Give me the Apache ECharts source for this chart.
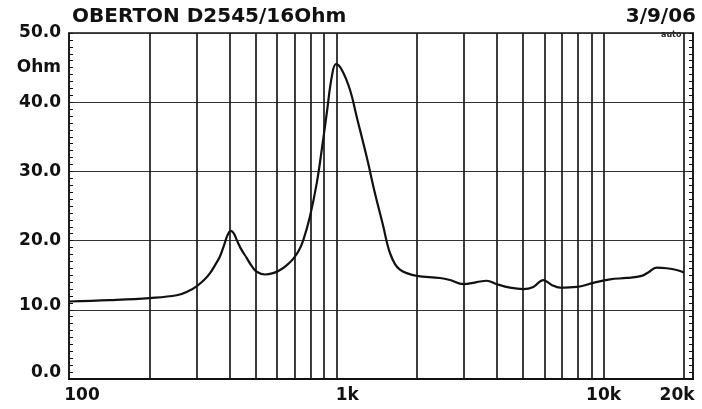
<!DOCTYPE html>
<html>
<head>
<meta charset="utf-8">
<script src="https://cdn.jsdelivr.net/npm/echarts@6/dist/echarts.min.js"></script>
<style>
html,body{margin:0;padding:0;background:#fff;}
#c{width:702px;height:409px;}
</style>
</head>
<body>
<div id="c"></div>
<script>
// Frequency (Hz) and impedance (Ohm)
var freq = [100, 142, 200, 253, 280, 300, 320, 337, 355, 367, 380, 392, 403, 414, 424, 440, 462, 483, 504, 541, 580, 616, 655, 691, 725, 753, 797, 845, 882, 921, 962, 997, 1048, 1125, 1192, 1299, 1396, 1500, 1545, 1588, 1658, 1730, 1833, 2000, 2443, 2663, 2988, 3352, 3653, 3984, 4467, 5010, 5459, 5947, 6394, 6871, 7928, 9152, 10570, 12200, 13880, 14690, 15800, 17220, 18770, 20000];
var ohm  = [11.2, 11.4, 11.7, 12.1, 12.7, 13.4, 14.3, 15.3, 16.7, 17.7, 19.3, 20.8, 21.4, 21.0, 20.1, 18.8, 17.5, 16.3, 15.5, 15.1, 15.3, 15.75, 16.5, 17.4, 18.6, 20.1, 23.5, 28.3, 33.1, 38.4, 43.7, 45.5, 44.7, 41.8, 37.9, 32.1, 26.8, 22.0, 19.8, 18.2, 16.6, 15.8, 15.3, 14.9, 14.6, 14.3, 13.7, 14.0, 14.2, 13.7, 13.2, 13.0, 13.3, 14.3, 13.6, 13.2, 13.3, 13.9, 14.4, 14.6, 14.9, 15.4, 16.1, 16.0, 15.75, 15.4];
var gridFreqs = [200, 300, 400, 500, 600, 700, 800, 900, 1000, 2000, 3000, 4000, 5000, 6000, 7000, 8000, 9000, 10000, 20000];
var xTickValues = [100, 1000, 10000, 20000];
var xTickLabels = ['100', '1k', '10k', '20k'];
var yTickValues = [0, 10, 20, 30, 40, 45, 50];
var yTickLabels = ['0.0', '10.0', '20.0', '30.0', '40.0', 'Ohm', '50.0'];
var titleText = 'OBERTON D2545/16Ohm';
var dateText = '3/9/06';

var FONT = 'DejaVu Sans';
var data = freq.map(function (f, i) { return [f, ohm[i]]; });

var chart = echarts.init(document.getElementById('c'), null, {renderer: 'canvas'});
var option = {
  backgroundColor: '#ffffff',
  animation: false,
  title: [
    {text: titleText, left: 72, top: 7, padding: 0,
     textStyle: {fontFamily: FONT, fontWeight: 'bold', fontSize: 20, color: '#111'}},
    {text: dateText, right: 6, top: 7, padding: 0,
     textStyle: {fontFamily: FONT, fontWeight: 'bold', fontSize: 20, color: '#111'}}
  ],
  graphic: [
    {type: 'text', left: 661, top: 31,
     style: {text: 'auto', fontFamily: FONT, fontWeight: 'bold', fontSize: 8, fill: '#222'}}
  ],
  grid: {left: 69, right: 9, top: 33, bottom: 30, show: true, borderColor: '#111', borderWidth: 1.5, backgroundColor: 'transparent'},
  xAxis: {
    type: 'log', logBase: 10, min: 100, max: 21600,
    axisLine: {show: true, lineStyle: {color: '#111', width: 2}},
    axisTick: {show: false},
    splitLine: {show: false},
    minorTick: {show: false},
    axisLabel: {
      customValues: xTickValues,
      margin: 8,
      formatter: function (v) {
        var i = xTickValues.indexOf(Math.round(v));
        var k = ['a', 'b', 'c', 'd'][i];
        return '{' + k + '|' + xTickLabels[i] + '}';
      },
      rich: {
        a: {fontFamily: FONT, fontWeight: 'bold', fontSize: 17, color: '#111', padding: [0, 0, 0, 26]},
        b: {fontFamily: FONT, fontWeight: 'bold', fontSize: 17, color: '#111', padding: [0, 0, 0, 22]},
        c: {fontFamily: FONT, fontWeight: 'bold', fontSize: 17, color: '#111'},
        d: {fontFamily: FONT, fontWeight: 'bold', fontSize: 17, color: '#111', padding: [0, 14, 0, 0]}
      }
    }
  },
  yAxis: [
    {
      type: 'value', min: 0, max: 50, interval: 10,
      axisLine: {show: true, lineStyle: {color: '#111', width: 1.5}},
      axisTick: {show: true, inside: true, length: 4, lineStyle: {color: '#111', width: 1}},
      minorTick: {show: true, splitNumber: 10, length: 4, lineStyle: {color: '#111', width: 1}},
      splitLine: {show: true, lineStyle: {color: '#333', width: 1.2}},
      axisLabel: {
        customValues: yTickValues,
        margin: 8,
        formatter: function (v) {
          var i = yTickValues.indexOf(Math.round(v));
          var k = i === 0 ? 'z' : (i === 1 ? 'o' : 'n');
          return '{' + k + '|' + yTickLabels[i] + '}';
        },
        rich: {
          z: {fontFamily: FONT, fontWeight: 'bold', fontSize: 17, color: '#111', padding: [0, 0, 12, 0]},
          o: {fontFamily: FONT, fontWeight: 'bold', fontSize: 17, color: '#111', padding: [0, 0, 8, 0]},
          n: {fontFamily: FONT, fontWeight: 'bold', fontSize: 17, color: '#111'}
        }
      }
    },
    {
      type: 'value', min: 0, max: 50, interval: 10, position: 'right',
      axisLine: {show: true, lineStyle: {color: '#111', width: 1.5}},
      axisTick: {show: true, inside: true, length: 4, lineStyle: {color: '#111', width: 1}},
      minorTick: {show: true, splitNumber: 10, length: 4, lineStyle: {color: '#111', width: 1}},
      splitLine: {show: false},
      axisLabel: {show: false}
    }
  ],
  series: [
    {
      type: 'line', data: [], z: 1, silent: true,
      markLine: {
        silent: true, symbol: ['none', 'none'], animation: false,
        label: {show: false},
        lineStyle: {type: 'solid', color: '#1a1a1a', width: 1.7},
        emphasis: {disabled: true},
        data: gridFreqs.map(function (v) { return {xAxis: v}; })
      }
    },
    {
      type: 'line', data: data, z: 5, showSymbol: false, symbol: 'none',
      smooth: 0.4,
      lineStyle: {color: '#111', width: 2.2}
    }
  ]
};
chart.setOption(option);
</script>
</body>
</html>
